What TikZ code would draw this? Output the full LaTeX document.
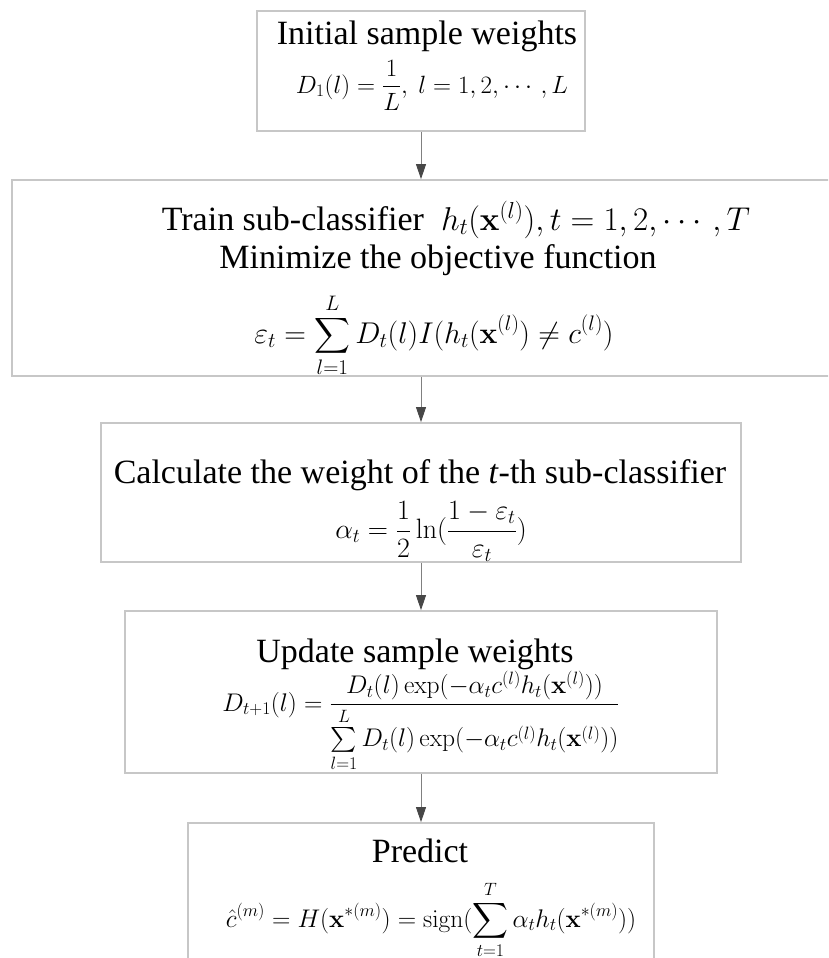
\RequirePackage{fix-cm}
\documentclass[tikz,border=0pt]{standalone}
\usepackage{amsmath}
\usepackage[no-math]{fontspec}
\setmainfont{Liberation Serif}
\usetikzlibrary{arrows.meta}
\begin{document}
\begin{tikzpicture}[x=1pt,y=-1pt,
  boxstyle/.style={draw=black!22, line width=1.8pt, fill=white, inner sep=0pt},
  txt/.style={anchor=base, inner sep=0pt, text=black, font=\fontsize{34}{40}\selectfont},
  conn/.style={draw=black!50, line width=0.9pt, -{Triangle[width=10pt,length=15pt,color=black!72]}}
]
\clip (0,0) rectangle (828,958);
\fill[white] (0,0) rectangle (828,958);
% boxes
\node[boxstyle, minimum width=328pt, minimum height=120pt] (b1) at (421,71) {};
\node[boxstyle, minimum width=818pt, minimum height=196pt] (b2) at (421,278) {};
\node[boxstyle, minimum width=640pt, minimum height=139pt] (b3) at (421,492.5) {};
\node[boxstyle, minimum width=592pt, minimum height=162pt] (b4) at (421,692) {};
\node[boxstyle, minimum width=466pt, minimum height=167pt] (b5) at (421,906.5) {};
% connectors
\draw[conn] (b1.south) -- (b2.north);
\draw[conn] (b2.south) -- (b3.north);
\draw[conn] (b3.south) -- (b4.north);
\draw[conn] (b4.south) -- (b5.north);
% box 1
\node[txt] (t1) at (427,45) {Initial sample weights};
\node[txt] (f1) at (432,93) {\fontsize{25}{30}\selectfont$\displaystyle D_1(l)=\frac{1}{L},\ l=1,2,\cdots,L$};
% box 2
\node[txt] (t2a) at (456,230) {Train sub-classifier\ \ {\fontsize{33}{40}\selectfont$h_t(\mathbf{x}^{(l)}),t=1,2,\cdots,T$}};
\node[txt] (t2b) at (438,268) {Minimize the objective function};
\node[txt] (f2) at (434,343) {\fontsize{30}{36}\selectfont$\displaystyle \varepsilon_t=\sum_{l=1}^{L}D_t(l)I(h_t(\mathbf{x}^{(l)})\neq c^{(l)})$};
% box 3
\node[txt] (t3) at (420,483) {Calculate the weight of the \textit{t}-th sub-classifier};
\node[txt] (f3) at (431,538) {\fontsize{28}{34}\selectfont$\displaystyle \alpha_t=\frac{1}{2}\ln(\frac{1-\varepsilon_t}{\varepsilon_t})$};
% box 4
\node[txt] (t4) at (415,662) {Update sample weights};
\node[txt] (f4) at (421,711) {\fontsize{25.5}{30}\selectfont$\displaystyle D_{t+1}(l)=\frac{D_t(l)\exp(-\alpha_t c^{(l)}h_t(\mathbf{x}^{(l)}))}{\sum\limits_{l=1}^{L}D_t(l)\exp(-\alpha_t c^{(l)}h_t(\mathbf{x}^{(l)}))}$};
% box 5
\node[txt] (t5) at (420,862) {Predict};
\node[txt] (f5) at (431,927) {\fontsize{25.5}{30}\selectfont$\displaystyle \hat{c}^{(m)}=H(\mathbf{x}^{*(m)})=\mathrm{sign}(\sum_{t=1}^{T}\alpha_t h_t(\mathbf{x}^{*(m)}))$};
\end{tikzpicture}
\end{document}
